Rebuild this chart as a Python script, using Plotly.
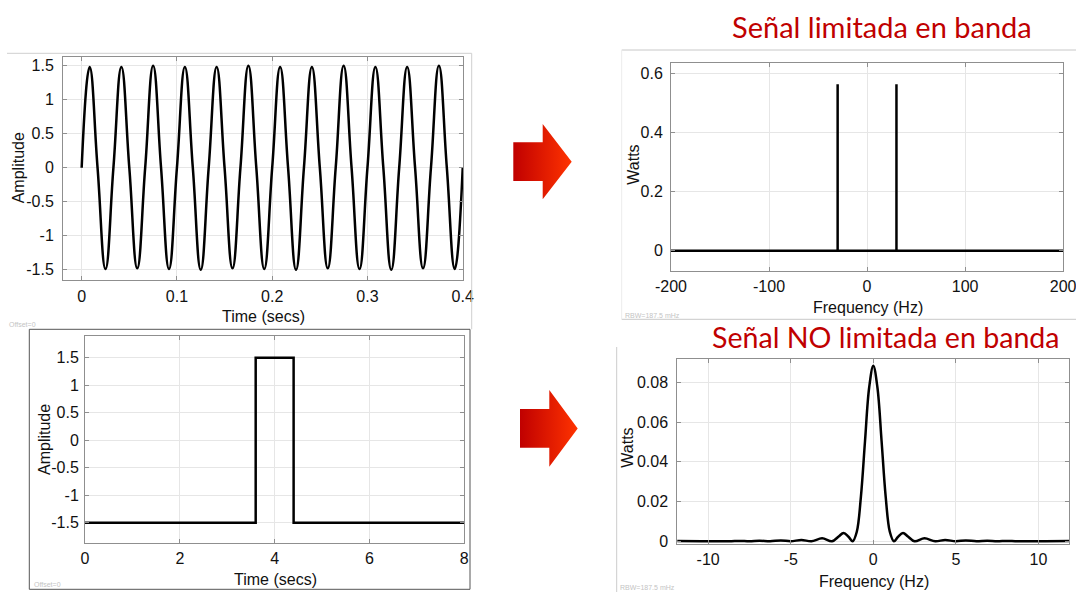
import plotly.graph_objects as go

W, H = 1076, 592

# ---------------- data ----------------
# top-left: sine (30 Hz, amplitude 1.5) read at quarter-period points
sine_t = [0, 0.00833, 0.01667, 0.025, 0.03333, 0.04167, 0.05, 0.05833, 0.06667, 0.075,
          0.08333, 0.09167, 0.1, 0.10833, 0.11667, 0.125, 0.13333, 0.14167, 0.15, 0.15833,
          0.16667, 0.175, 0.18333, 0.19167, 0.2, 0.20833, 0.21667, 0.225, 0.23333, 0.24167,
          0.25, 0.25833, 0.26667, 0.275, 0.28333, 0.29167, 0.3, 0.30833, 0.31667, 0.325,
          0.33333, 0.34167, 0.35, 0.35833, 0.36667, 0.375, 0.38333, 0.39167, 0.4]
sine_v = [0, 1.48, 0, -1.49, 0, 1.48, 0, -1.48, 0, 1.5, 0, -1.49, 0, 1.48, 0, -1.5,
          0, 1.48, 0, -1.48, 0, 1.5, 0, -1.49, 0, 1.48, 0, -1.5, 0, 1.48, 0, -1.48,
          0, 1.5, 0, -1.49, 0, 1.48, 0, -1.5, 0, 1.48, 0, -1.48, 0, 1.5, 0, -1.49, 0]

# top-right: line spectrum of the sine
spec1_f = [-200, -30, -30, -30, 30, 30, 30, 200]
spec1_p = [0, 0, 0.5625, 0, 0, 0.5625, 0, 0]

# bottom-left: rectangular pulse
pulse_t = [0, 3.6, 3.6, 4.4, 4.4, 8]
pulse_v = [-1.5, -1.5, 1.5, 1.5, -1.5, -1.5]

# bottom-right: sinc^2-like spectrum of the pulse (read points)
spec2_f = [-11.9, -8.75, -8.1, -7.5, -6.9, -6.25, -5.6, -5.0, -4.35, -3.75, -3.1, -2.5,
           -2.1, -1.8, -1.5, -1.25, -1.0, -0.75, -0.5, -0.25, 0,
           0.25, 0.5, 0.75, 1.0, 1.25, 1.5, 1.8, 2.1, 2.5, 3.1, 3.75, 4.35, 5.0,
           5.6, 6.25, 6.9, 7.5, 8.1, 8.75, 11.9]
spec2_p = [0.0001, 0, 0.0002, 0, 0.0003, 0, 0.00045, 0, 0.0007, 0, 0.0015, 0,
           0.0024, 0.0042, 0.0023, 0, 0.0048, 0.0225, 0.0506, 0.0774, 0.0884,
           0.0774, 0.0506, 0.0225, 0.0048, 0, 0.0023, 0.0042, 0.0024, 0, 0.0015, 0, 0.0007, 0,
           0.00045, 0, 0.0003, 0, 0.0002, 0, 0.0001]

# tick labels
tl_xt = [0, 0.1, 0.2, 0.3, 0.4]; tl_xl = ["0", "0.1", "0.2", "0.3", "0.4"]
amp_t = [-1.5, -1, -0.5, 0, 0.5, 1, 1.5]; amp_l = ["-1.5", "-1", "-0.5", "0", "0.5", "1", "1.5"]
bl_xt = [0, 2, 4, 6, 8]; bl_xl = ["0", "2", "4", "6", "8"]
tr_xt = [-200, -100, 0, 100, 200]; tr_xl = ["-200", "-100", "0", "100", "200"]
tr_yt = [0, 0.2, 0.4, 0.6]; tr_yl = ["0", "0.2", "0.4", "0.6"]
br_xt = [-10, -5, 0, 5, 10]; br_xl = ["-10", "-5", "0", "5", "10"]
br_yt = [0, 0.02, 0.04, 0.06, 0.08]; br_yl = ["0", "0.02", "0.04", "0.06", "0.08"]

# ---------------- layout helpers ----------------
def xd(a, b):
    return [a / W, b / W]

def yd(top, bottom):
    return [1 - bottom / H, 1 - top / H]

FONT = "Liberation Sans, Arial, sans-serif"
TXT = "#111111"
BOX = "#8f8f8f"

def ax(dom, rng, tv, tt, anchor, standoff):
    return dict(domain=dom, range=rng, tickvals=tv, ticktext=tt, anchor=anchor,
                showline=True, linecolor=BOX, linewidth=1, mirror="allticks",
                ticks="inside", ticklen=4, tickcolor=BOX, showgrid=True,
                gridcolor="#e6e6e6", gridwidth=1, zeroline=False, automargin=False,
                tickfont=dict(family=FONT, size=16, color=TXT),
                ticklabelstandoff=standoff, ticklabeloverflow="allow", fixedrange=True)

fig = go.Figure()
line = dict(color="black", width=2.5)
fig.add_trace(go.Scatter(x=sine_t, y=sine_v, mode="lines", line=dict(color="black", width=2.5, shape="spline", smoothing=1.3), xaxis="x", yaxis="y"))
fig.add_trace(go.Scatter(x=spec1_f, y=spec1_p, mode="lines", line=line, xaxis="x2", yaxis="y2"))
fig.add_trace(go.Scatter(x=pulse_t, y=pulse_v, mode="lines", line=line, xaxis="x3", yaxis="y3"))
fig.add_trace(go.Scatter(x=spec2_f, y=spec2_p, mode="lines", line=dict(color="black", width=2.5, shape="spline", smoothing=1.0), xaxis="x4", yaxis="y4"))

# arrows (decoration) on a pixel-space overlay axis
def arrow(x0, xb, xt, by0, by1, hy0, hy1, ty):
    xs = [x0, xb, xb, xt, xb, xb, x0, x0]
    ys = [by0, by0, hy0, ty, hy1, by1, by1, by0]
    return go.Scatter(x=xs, y=ys, mode="lines", fill="toself", line=dict(width=0, color="rgba(0,0,0,0)"),
                      fillgradient=dict(type="horizontal", colorscale=[[0, "#C00000"], [1, "#FF3300"]]),
                      xaxis="x5", yaxis="y5", hoverinfo="skip")

fig.add_trace(arrow(513.3, 542.7, 571.7, 142.3, 181, 124, 199.3, 161.7))
fig.add_trace(arrow(520, 549.3, 577.7, 409, 447.7, 390, 466.7, 428.4))

layout = dict(
    width=W, height=H, margin=dict(l=0, r=0, t=0, b=0, autoexpand=False), showlegend=False,
    paper_bgcolor="white", plot_bgcolor="rgba(0,0,0,0)",
    xaxis=ax(xd(63, 463), [-0.0196, 0.4003], tl_xt, tl_xl, "y", 2),
    yaxis=ax(yd(57, 280), [-1.651, 1.628], amp_t, amp_l, "x", 5),
    xaxis2=ax(xd(671, 1063.3), [-200, 200.2], tr_xt, tr_xl, "y2", 1),
    yaxis2=ax(yd(63.3, 271), [-0.0686, 0.633], tr_yt, tr_yl, "x2", 4),
    xaxis3=ax(xd(85, 464.3), [0, 8], bl_xt, bl_xl, "y3", 0),
    yaxis3=ax(yd(336, 543.3), [-1.875, 1.895], amp_t, amp_l, "x3", 2),
    xaxis4=ax(xd(677.3, 1069.3), [-11.87, 11.87], br_xt, br_xl, "y4", 1),
    yaxis4=ax(yd(359.3, 544), [-0.00136, 0.0916], br_yt, br_yl, "x4", 5),
    xaxis5=dict(domain=[0, 1], range=[0, W], visible=False, fixedrange=True, anchor="y5", automargin=False),
    yaxis5=dict(domain=[0, 1], range=[H, 0], visible=False, fixedrange=True, anchor="x5", automargin=False),
)
fig.update_layout(**layout)

# axis titles
def label(text, x, y, angle=0, size=16, color=TXT, family=FONT, xanchor="center"):
    fig.add_annotation(text=text, x=x, y=y, xref="x5", yref="y5", showarrow=False,
                       textangle=angle, xanchor=xanchor, yanchor="middle",
                       font=dict(family=family, size=size, color=color))

label("Amplitude", 18.3, 168, -90)
label("Time (secs)", 263.5, 316.7)
label("Amplitude", 44, 440, -90)
label("Time (secs)", 275, 579)
label("Watts", 632.7, 165, -90)
label("Frequency (Hz)", 867.7, 307.7)
label("Watts", 626.7, 448, -90)
label("Frequency (Hz)", 873.8, 581.7)

# slide titles
label("Señal limitada en banda", 729.5, 26, size=29, color="#C00000", family="Lato, Carlito, sans-serif", xanchor="left")
label("Señal NO limitada en banda", 710, 336.5, size=28.6, color="#C00000", family="Lato, Carlito, sans-serif", xanchor="left")

# tiny screenshot captions
label("Offset=0", 7, 324.3, size=7, color="#c4c4c4", xanchor="left")
label("Offset=0", 31.7, 584, size=7, color="#c4c4c4", xanchor="left")
label("RBW=187.5 mHz", 623.3, 315, size=7, color="#c4c4c4", xanchor="left")
label("RBW=187.5 mHz", 618, 587, size=7, color="#c4c4c4", xanchor="left")

# screenshot frame lines
def seg(x0, y0, x1, y1, color, width=1):
    fig.add_shape(type="line", x0=x0, y0=y0, x1=x1, y1=y1, xref="x5", yref="y5",
                  line=dict(color=color, width=width), layer="above")

seg(7, 53.3, 471.7, 53.3, "#cfcfcf")
seg(471.7, 53.3, 471.7, 329.3, "#cfcfcf")
fig.add_shape(type="rect", x0=29.3, y0=329.3, x1=470, y1=589.3, xref="x5", yref="y5",
              line=dict(color="#555555", width=1), layer="above")
seg(621.7, 50, 1076, 50, "#c8c8c8")
seg(621.7, 319.3, 1076, 319.3, "#c8c8c8")
seg(621.7, 50, 621.7, 319.3, "#ececec")
seg(616.7, 347, 616.7, 592, "#cccccc")

fig.write_html("out.html", config={"displayModeBar": False},
               post_script="document.body.style.margin='0px';document.body.style.overflow='hidden';")
